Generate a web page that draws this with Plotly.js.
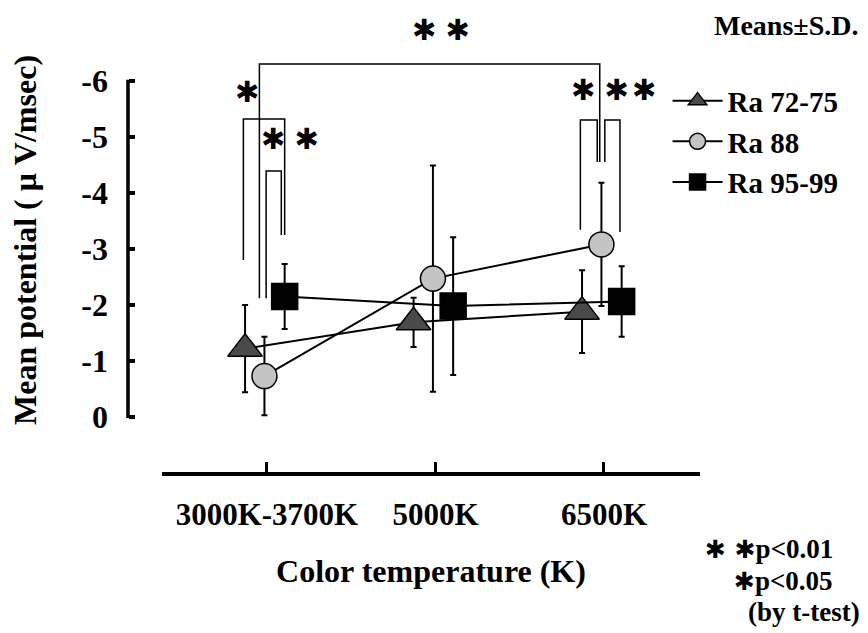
<!DOCTYPE html>
<html><head><meta charset="utf-8">
<script src="https://cdn.plot.ly/plotly-3.0.1.min.js"></script>
<style>html,body{margin:0;padding:0;background:#fff}#chart{width:868px;height:633px}</style>
</head><body><div id="chart"></div>
<script>
// ---- data ----
const categories = ['3000K-3700K', '5000K', '6500K'];
const seriesNames = ['Ra 72-75', 'Ra 88', 'Ra 95-99'];
const ra7275Mean = [-1.22, -1.69, -1.88];
const ra7275SD   = [0.78, 0.44, 0.74];
const ra88Mean   = [-0.73, -2.47, -3.08];
const ra88SD     = [0.70, 2.02, 1.10];
const ra9599Mean = [-2.15, -1.98, -2.06];
const ra9599SD   = [0.58, 1.23, 0.63];
const yTickVals  = [0, -1, -2, -3, -4, -5, -6];
const yTickText  = ['0', '-1', '-2', '-3', '-4', '-5', '-6'];
// significance comparisons: [catA, seriesA, catB, seriesB, label]
const comparisons = [
  [0, 1, 2, 1, '✱ ✱'],
  [0, 0, 0, 2, '✱'],
  [0, 1, 0, 2, '✱ ✱'],
  [2, 0, 2, 1, '✱ ✱'],
  [2, 1, 2, 2, '✱']
];

// ---- style ----
const SERIF = 'Liberation Serif, Times New Roman, serif';
const STAR = 'DejaVu Sans, sans-serif';
const offsets = [-0.13, -0.015, 0.105];
const catX = i => i + 1;
const xs = s => categories.map((c, i) => catX(i) + offsets[s]);

const markerStyles = [
  {symbol: 'triangle-up', size: 30, color: '#4a4a4a', line: {color: '#000', width: 1.5}},
  {symbol: 'circle', size: 25, color: '#c4c4c4', line: {color: '#000', width: 1.5}},
  {symbol: 'square', size: 26, color: '#000', line: {color: '#000', width: 1.5}}
];
const means = [ra7275Mean, ra88Mean, ra9599Mean];
const sds = [ra7275SD, ra88SD, ra9599SD];

const traces = seriesNames.map((name, s) => ({
  type: 'scatter', mode: 'lines+markers', name: name,
  x: xs(s), y: means[s],
  line: {color: '#000', width: 2},
  marker: markerStyles[s],
  error_y: {type: 'data', array: sds[s], visible: true, color: '#000', thickness: 2, width: 3},
  hoverinfo: 'skip'
}));

// bracket geometry (style: leg tops / bottoms, small leg shifts, label placement)
const bracketSpec = [
  {dxA: -0.03, dxB: -0.01, yA: -2.12, yB: -4.55, top: -6.30, lx: 2.033, ly: -6.90},
  {dxA: -0.01, dxB: 0.0, yA: -2.80, yB: -3.25, top: -5.32, lx: 0.881, ly: -5.80},
  {dxA: 0.01, dxB: -0.02, yA: -2.12, yB: -3.25, top: -4.39, lx: 1.137, ly: -4.96},
  {dxA: -0.01, dxB: -0.025, yA: -3.34, yB: -4.55, top: -5.30, lx: 2.976, ly: -5.84},
  {dxA: 0.02, dxB: -0.01, yA: -4.55, yB: -3.30, top: -5.30, lx: 3.237, ly: -5.84}
];
const shapes = [];
const annotations = [];
comparisons.forEach((c, k) => {
  const b = bracketSpec[k];
  const xa = catX(c[0]) + offsets[c[1]] + b.dxA;
  const xb = catX(c[2]) + offsets[c[3]] + b.dxB;
  shapes.push({type: 'path', xref: 'x', yref: 'y',
    path: `M ${xa},${b.yA} L ${xa},${b.top} L ${xb},${b.top} L ${xb},${b.yB}`,
    line: {color: '#000', width: 1.5}});
  annotations.push({xref: 'x', yref: 'y', x: b.lx, y: b.ly, text: c[4], showarrow: false,
    font: {family: STAR, size: 29, color: '#000'}});
});
// y axis line drawn from 0 to -6
shapes.push({type: 'line', xref: 'paper', yref: 'y', x0: 18 / 590, x1: 18 / 590, y0: 0.02, y1: -6.02,
  line: {color: '#000', width: 3.5}});

annotations.push({xref: 'paper', yref: 'paper', x: 1.271, y: 0.963, xanchor: 'right', yanchor: 'middle',
  text: 'Means±S.D.', showarrow: false, font: {family: SERIF, size: 28, color: '#000', weight: 'bold'}});
annotations.push({xref: 'paper', yref: 'paper', x: 1.228, y: -0.166, xanchor: 'right', yanchor: 'middle',
  text: '<span style="font-family:DejaVu Sans;font-size:25px">✱ ✱</span>p&lt;0.01', showarrow: false,
  font: {family: SERIF, size: 27, color: '#000', weight: 'bold'}});
annotations.push({xref: 'paper', yref: 'paper', x: 1.228, y: -0.235, xanchor: 'right', yanchor: 'middle',
  text: '<span style="font-family:DejaVu Sans;font-size:25px">✱</span>p&lt;0.05', showarrow: false,
  font: {family: SERIF, size: 27, color: '#000', weight: 'bold'}});
annotations.push({xref: 'paper', yref: 'paper', x: 1.274, y: -0.302, xanchor: 'right', yanchor: 'middle',
  text: '(by t-test)', showarrow: false, font: {family: SERIF, size: 27, color: '#000', weight: 'bold'}});

const layout = {
  width: 868, height: 633,
  margin: {l: 110, r: 168, t: 8, b: 161},
  paper_bgcolor: '#fff', plot_bgcolor: 'rgba(0,0,0,0)',
  showlegend: true,
  legend: {x: 0.945, y: 0.855, xanchor: 'left', yanchor: 'top', bgcolor: 'rgba(0,0,0,0)',
    font: {family: SERIF, size: 29, color: '#000', weight: 'bold'}, tracegroupgap: 0, itemwidth: 50},
  xaxis: {
    domain: [52 / 590, 1], range: [0.377, 3.570],
    tickvals: categories.map((c, i) => catX(i)), ticktext: categories,
    showline: true, linecolor: '#000', linewidth: 3.5, showgrid: false, zeroline: false,
    ticks: 'inside', ticklen: 10, tickwidth: 3, tickcolor: '#000', ticklabelstandoff: 12,
    tickfont: {family: SERIF, size: 31, color: '#000', weight: 'bold'},
    title: {text: 'Color temperature (K)', standoff: 30,
      font: {family: SERIF, size: 32, color: '#000', weight: 'bold'}},
    automargin: false, fixedrange: true
  },
  yaxis: {
    anchor: 'free', position: 18 / 590, range: [0.982, -7.3],
    tickvals: yTickVals, ticktext: yTickText,
    showline: false, showgrid: false, zeroline: false,
    ticks: 'inside', ticklen: 6, tickwidth: 3.5, tickcolor: '#000', ticklabelstandoff: 20,
    tickfont: {family: SERIF, size: 32, color: '#000', weight: 'bold'},
    title: {text: 'Mean potential ( μ V/msec)', standoff: 34,
      font: {family: SERIF, size: 32, color: '#000', weight: 'bold'}},
    automargin: false, fixedrange: true
  },
  shapes: shapes,
  annotations: annotations
};

Plotly.newPlot('chart', traces, layout, {displayModeBar: false, staticPlot: true});
</script>
</body></html>
